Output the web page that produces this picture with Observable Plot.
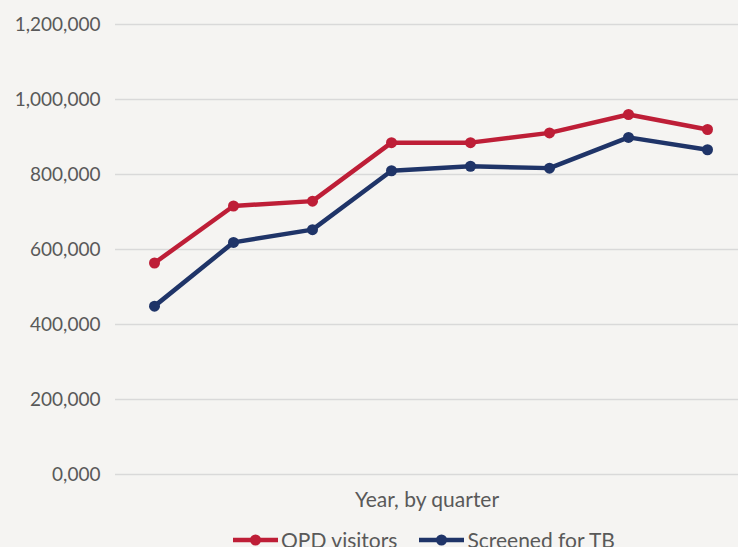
<!DOCTYPE html>
<html>
<head>
<meta charset="utf-8">
<script src="https://cdn.jsdelivr.net/npm/d3@7"></script>
<script src="https://cdn.jsdelivr.net/npm/@observablehq/plot@0.6"></script>
<style>
  html, body { margin: 0; padding: 0; background: #f5f4f2; overflow: hidden; }
  body { width: 738px; height: 547px; font-family: Lato, "Open Sans", sans-serif; color: #595959; }
  #legend { display: flex; justify-content: center; gap: 22px; font-size: 21px; line-height: 24px; margin-top: 6px; margin-left: 124px; width: 600px; box-sizing: border-box; }
  #legend .item { display: flex; align-items: center; gap: 3px; }
  #legend svg { display: block; }
</style>
</head>
<body>
<div id="chart"></div>
<div id="legend"></div>
<script>
const quarters = ["Q1", "Q2", "Q3", "Q4", "Q5", "Q6", "Q7", "Q8"];
const opdVisitors = [564000, 716000, 729000, 885000, 885000, 911000, 960000, 920000];
const screenedTB = [449000, 619000, 653000, 810000, 822000, 817000, 899000, 866000];
const seriesNames = ["OPD visitors", "Screened for TB"];
const seriesColors = ["#be1e37", "#1f3468"];
const yTicks = [0, 200000, 400000, 600000, 800000, 1000000, 1200000];
const yTickLabels = ["0,000", "200,000", "400,000", "600,000", "800,000", "1,000,000", "1,200,000"];

const data = [];
quarters.forEach((q, i) => {
  data.push({quarter: q, value: opdVisitors[i], series: seriesNames[0]});
  data.push({quarter: q, value: screenedTB[i], series: seriesNames[1]});
});

const chart = Plot.plot({
  width: 738,
  height: 522,
  marginLeft: 115,
  marginRight: 0,
  marginTop: 24,
  marginBottom: 48,
  style: {background: "transparent", fontFamily: "Lato, 'Open Sans', sans-serif", fontSize: "19px", color: "#595959"},
  x: {type: "point", domain: quarters, range: [154, 707], padding: 0},
  y: {domain: [0, 1200000]},
  color: {domain: seriesNames, range: seriesColors},
  marks: [
    Plot.gridY(yTicks, {stroke: "#d9d9d9", strokeOpacity: 1, strokeWidth: 1.5}),
    Plot.axisY(yTicks, {tickSize: 0, tickPadding: 15, tickFormat: d => yTickLabels[yTicks.indexOf(d)], label: null, fill: "#595959"}),
    Plot.axisX({ticks: [], label: "Year, by quarter", labelAnchor: "center", labelArrow: "none", labelOffset: 32, tickSize: 0, fill: "#595959", fontSize: "21px"}),
    Plot.line(data, {x: "quarter", y: "value", stroke: "series", strokeWidth: 4.5}),
    Plot.dot(data, {x: "quarter", y: "value", fill: "series", r: 5.5})
  ]
});
document.getElementById("chart").appendChild(chart);

const legend = document.getElementById("legend");
seriesNames.forEach((name, i) => {
  const item = document.createElement("div");
  item.className = "item";
  item.innerHTML = `<svg width="45" height="14"><line x1="0" y1="7" x2="45" y2="7" stroke="${seriesColors[i]}" stroke-width="4.5"/><circle cx="22.5" cy="7" r="5.5" fill="${seriesColors[i]}"/></svg><span>${name}</span>`;
  legend.appendChild(item);
});
</script>
</body>
</html>
